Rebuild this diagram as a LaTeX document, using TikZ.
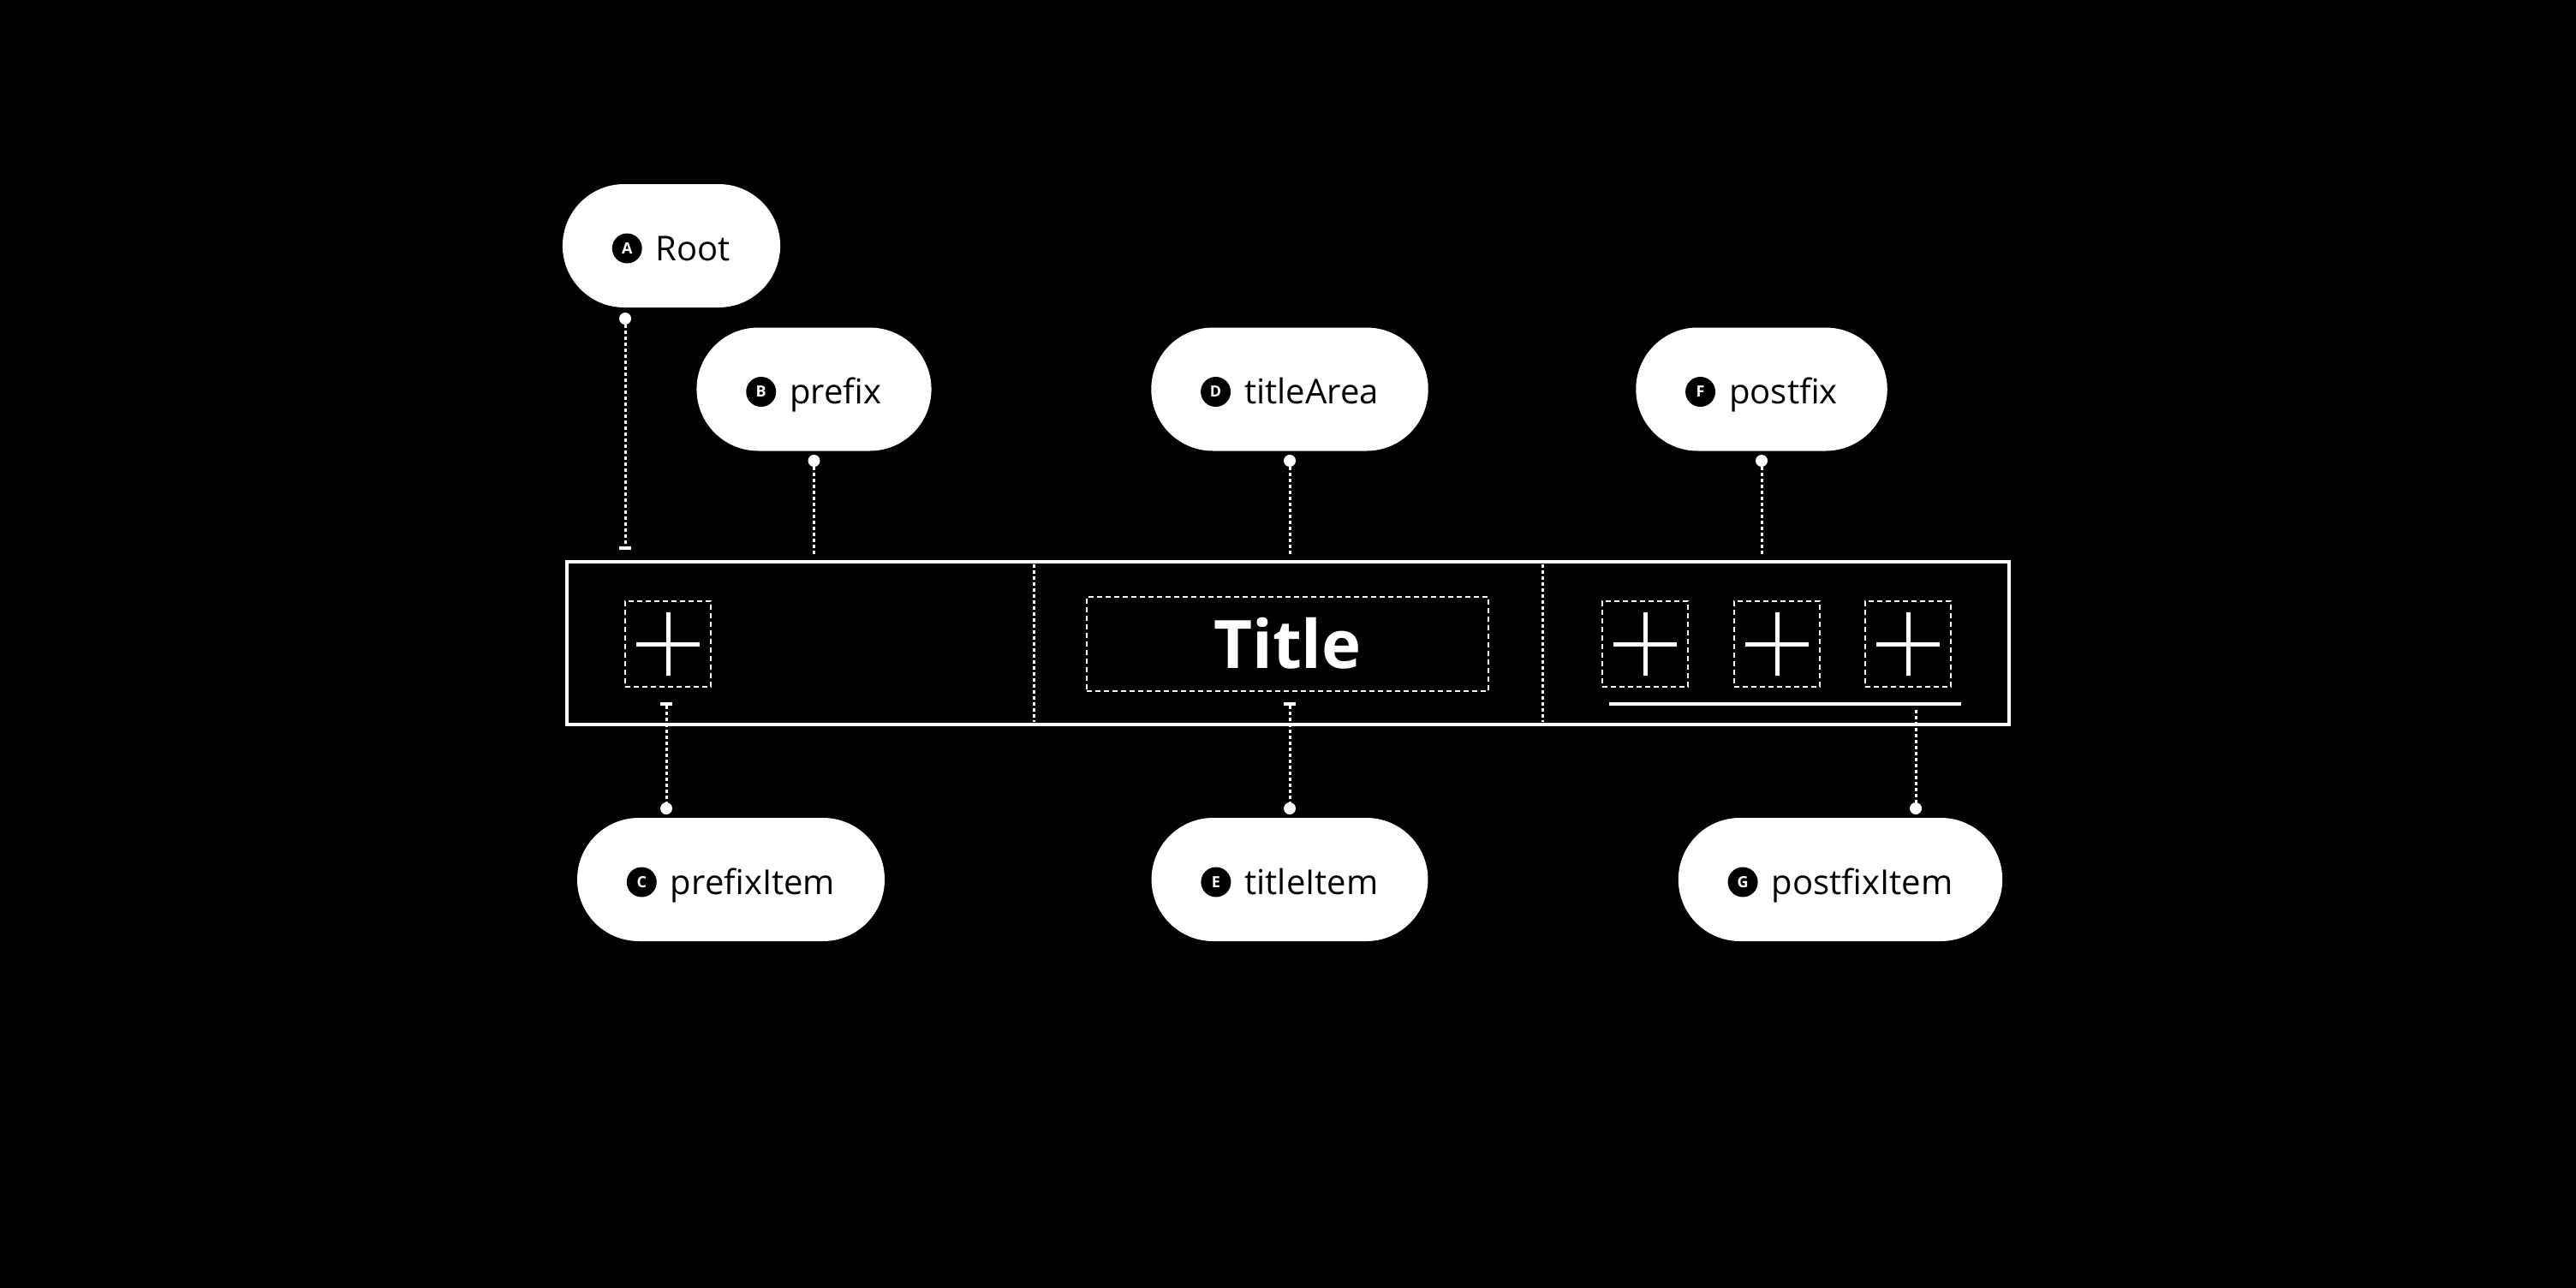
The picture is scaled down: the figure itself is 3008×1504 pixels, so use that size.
\documentclass[tikz,border=0pt]{standalone}
\usepackage{fontspec}
\setmainfont{Open Sans}
\tikzset{
  pill/.style={fill=white, rounded corners=72pt, minimum height=144pt, inner xsep=58pt, inner ysep=0pt, text height=34pt, text depth=0pt, font=\fontsize{40}{48}\selectfont},
  badge/.style={circle, fill=black, text=white, minimum size=35pt, inner sep=0pt, font=\bfseries\fontsize{18}{18}\selectfont},
  knob/.style={circle, fill=white, minimum size=14pt, inner sep=0pt},
  stub/.style={fill=white, minimum width=14pt, minimum height=4pt, inner sep=0pt},
  link/.style={white, line width=3pt, dash pattern=on 4pt off 3pt},
  guide/.style={draw=white, line width=2pt, dash pattern=on 6pt off 4pt, inner sep=0pt},
  cross/.style={white, line width=5pt},
}
\begin{document}
\begin{tikzpicture}[x=1pt, y=-1pt]
\fill[black] (0,0) rectangle (3008,1504);
\useasboundingbox (0,0) rectangle (3008,1504);

% labels
\node[pill] (root) at (784,287) {\hspace*{51pt}Root};
\node[pill] (prefix) at (950.5,454.5) {\hspace*{51pt}prefix};
\node[pill] (titlearea) at (1506,454.5) {\hspace*{51pt}titleArea};
\node[pill] (postfix) at (2057,454.5) {\hspace*{51pt}postfix};
\node[pill] (prefixitem) at (853.5,1027) {\hspace*{51pt}prefixItem};
\node[pill] (titleitem) at (1506,1027) {\hspace*{51pt}titleItem};
\node[pill] (postfixitem) at (2149,1027) {\hspace*{51pt}postfixItem};
\foreach \n/\l in {root/A, prefix/B, prefixitem/C, titlearea/D, titleitem/E, postfix/F, postfixitem/G}
  \node[badge] at ([xshift=75.5pt, yshift=-3pt]\n.west) {\l};

% the bar
\node[draw=white, line width=4pt, minimum width=1684pt, minimum height=190pt] (bar) at (1504,751) {};
\draw[link] (1207,659) -- (1207,843);
\draw[link] (1801,659) -- (1801,843);
\node[guide, minimum width=469pt, minimum height=110pt, text=white, text height=56pt, text depth=0pt, font=\bfseries\fontsize{78}{80}\selectfont] (title) at (1503.5,752) {Title};
\foreach \n/\x in {item0/780, item1/1921, item2/2075, item3/2228}{
  \node[guide, minimum size=100pt] (\n) at (\x,752) {};
  \draw[cross] (\x-37,752) -- (\x+37,752) (\x,715) -- (\x,789);
}
\draw[white, line width=4pt] (1879,822) -- (2290,822);

% connectors
\node[knob] (ad) at (730,372) {};
\node[stub] (at) at (730,640) {};
\draw[link] (ad) -- (at);
\node[knob] (bd) at (950.5,538) {};
\coordinate (bt) at (950.5,650);
\draw[link] (bd) -- (bt);
\node[knob] (dd) at (1506,538) {};
\coordinate (dt) at (1506,650);
\draw[link] (dd) -- (dt);
\node[knob] (fd) at (2057,538) {};
\coordinate (ft) at (2057,650);
\draw[link] (fd) -- (ft);
\node[stub] (ct) at (778,822) {};
\node[knob] (cd) at (778,944) {};
\draw[link] (ct) -- (cd);
\node[stub] (et) at (1506,822) {};
\node[knob] (ed) at (1506,944) {};
\draw[link] (et) -- (ed);
\coordinate (gt) at (2237,829);
\node[knob] (gd) at (2237,944) {};
\draw[link] (gt) -- (gd);

\end{tikzpicture}
\end{document}
